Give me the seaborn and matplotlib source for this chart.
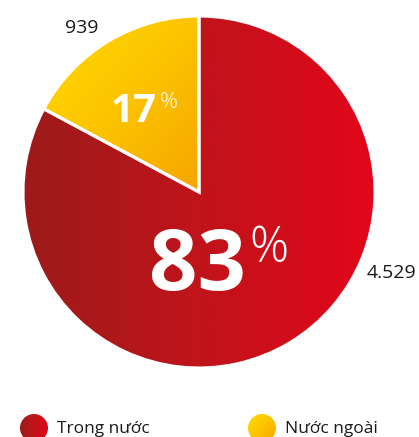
import numpy as np
import matplotlib.pyplot as plt
import seaborn as sns
from matplotlib.colors import LinearSegmentedColormap
from matplotlib.patches import Circle

sns.set_theme(style="white")
plt.rcParams['font.family'] = ['Open Sans', 'DejaVu Sans']

labels = ["Trong nước", "Nước ngoài"]
values = [4529, 939]
value_labels = ["4.529", "939"]
shares = ["83", "17"]

red_cmap = LinearSegmentedColormap.from_list("red", ["#9c1b1b", "#c0141a", "#e3061a"])
yellow_cmap = LinearSegmentedColormap.from_list("yellow", ["#ffdb00", "#fcc400", "#f6a500"])

H = 437
fig = plt.figure(figsize=(4.19, 4.37), dpi=100)
ax = fig.add_axes([0, 0, 1, 1])

cx, cy, r = 199, H - 192, 176
wedges, _ = ax.pie(values, center=(cx, cy), radius=r, startangle=90,
                   counterclock=False,
                   wedgeprops=dict(edgecolor="white", linewidth=2.2))

# horizontal gradient for the red slice, diagonal for the yellow one
hgrad = np.linspace(0, 1, 256).reshape(1, -1)
xx, yy = np.meshgrid(np.linspace(0, 1, 128), np.linspace(0, 1, 128))
dgrad = (xx + yy) / 2

for w, grad, cmap in [(wedges[0], hgrad, red_cmap), (wedges[1], dgrad, yellow_cmap)]:
    w.set_facecolor("none")
    ext = (cx - r, cx + r, cy - r, cy + r) if w is wedges[0] else (40, 200, cy, cy + r)
    im = ax.imshow(grad, cmap=cmap, extent=ext, origin="upper", aspect="auto",
                   interpolation="bicubic", zorder=0)
    im.set_clip_path(w)
    w.set_zorder(2)

# value labels
ax.text(82, H - 28, value_labels[1], ha="center", va="center", fontsize=14, color="#1a1a1a")
ax.text(367, H - 273, value_labels[0], ha="left", va="center", fontsize=14, color="#1a1a1a")

# percentages
ax.text(149, H - 290, shares[0], ha="left", va="baseline", fontsize=61,
        fontweight="bold", color="white", zorder=5)
ax.text(249, H - 262, "%", ha="left", va="baseline", fontsize=35,
        fontweight="light", color="white", zorder=5)
ax.text(111, H - 122, shares[1], ha="left", va="baseline", fontsize=29,
        fontweight="bold", color="white", zorder=5)
ax.text(160, H - 108, "%", ha="left", va="baseline", fontsize=16,
        fontweight="light", color="white", zorder=5)

# legend
for x0, lab, cmap, grad in [(34, labels[0], red_cmap, hgrad), (262, labels[1], yellow_cmap, dgrad.T)]:
    c = Circle((x0, H - 428), 14, facecolor="none", edgecolor="none")
    ax.add_patch(c)
    im = ax.imshow(grad, cmap=cmap, extent=(x0 - 14, x0 + 14, H - 442, H - 414),
                   origin="upper", aspect="auto", interpolation="bicubic")
    im.set_clip_path(c)
    ax.text(x0 + 23, H - 433, lab, ha="left", va="baseline", fontsize=12.5, color="#1a1a1a")

ax.set_xlim(0, 419)
ax.set_ylim(0, H)
ax.set_aspect("equal")
ax.axis("off")

plt.savefig("out.png", dpi=100)
